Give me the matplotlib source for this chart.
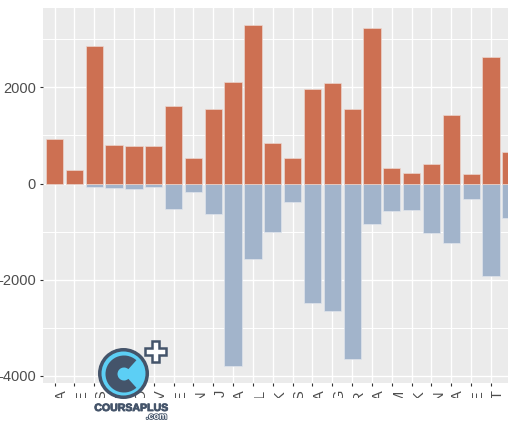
import numpy as np
import matplotlib
matplotlib.use("Agg")
import matplotlib.pyplot as plt
import matplotlib.patheffects as pe
from matplotlib.patches import Circle, Wedge, Polygon, Rectangle

plt.rcParams['font.family'] = ['Liberation Sans', 'DejaVu Sans']
plt.rcParams['axes.unicode_minus'] = False

# Valeurs (24 catégories visibles)
labels = ['A', 'E', 'S', 'O', 'O', 'V', 'E', 'N', 'J', 'A', 'L', 'K',
          'S', 'A', 'G', 'R', 'A', 'M', 'K', 'N', 'A', 'E', 'T', 'A']
positifs = [920, 276, 2860, 803, 783, 783, 1613, 533, 1543, 2118, 3296, 852,
            533, 1959, 2098, 1543, 3226, 318, 228, 415, 1427, 208, 2624, 665]
negatifs = [0, 0, -62, -90, -111, -62, -527, -180, -639, -3792, -1569, -1014,
            -389, -2493, -2639, -3653, -847, -576, -555, -1035, -1243, -319, -1917, -715]
yticks = [-4000, -2000, 0, 2000]

W, H = 508, 422
fig = plt.figure(figsize=(W / 100, H / 100), dpi=100)

# panneau : gauche 42.7 px, haut 8 px, bas 383 px, déborde à droite
left, top, bottom = 42.7, 8, 383
n = len(labels)
right = left + (n - 1 + 1.2) * 20
ax = fig.add_axes([left / W, 1 - bottom / H, (right - left) / W, (bottom - top) / H])
ax.set_facecolor('#ebebeb')

x = np.arange(1, n + 1)
ax.bar(x, negatifs, width=0.87, color='#a2b4cb', edgecolor='#dfe4ec', linewidth=0.5, zorder=2)
ax.bar(x, positifs, width=0.87, color='#cd7052', edgecolor='#ecd5cc', linewidth=0.5, zorder=3)

ax.set_xlim(0.4, n + 0.8)
ax.set_ylim(-4146, 3650)
ax.set_yticks(yticks)
ax.set_yticklabels([str(v) for v in yticks])
ax.set_yticks([-3000, -1000, 1000, 3000], minor=True)
ax.set_xticks(x)
ax.set_xticklabels(labels, rotation=90, ha='left', va='top')

ax.grid(True, which='major', color='white', linewidth=1.0, zorder=0)
ax.grid(True, which='minor', axis='y', color='white', linewidth=0.7, zorder=0)
ax.set_axisbelow(True)
for s in ax.spines.values():
    s.set_visible(False)
ax.tick_params(axis='both', which='major', length=2.5, width=0.8, color='#333333',
               labelcolor='#4d4d4d', labelsize=10.5, pad=2.5)
ax.tick_params(axis='y', which='minor', length=0)

# image recadrée : bas blanc
fig.add_artist(Rectangle((0, 0), 1, (H - 397.5) / H, transform=fig.transFigure,
                         facecolor='white', edgecolor='none', zorder=10))

# logo
lg = fig.add_axes([0, 0, 1, 1], zorder=20)
lg.set_xlim(0, W)
lg.set_ylim(H, 0)
lg.axis('off')
navy = '#44546a'
lg.add_patch(Circle((123.5, 373.5), 25.5, facecolor=navy, edgecolor='none'))
lg.add_patch(Circle((123.5, 373.5), 22, facecolor='#5ccff5', edgecolor='none'))
lg.add_patch(Wedge((124, 374), 18.5, 48, 312, width=12, facecolor=navy, edgecolor='none'))
cx, cy, a, b = 155.5, 351.5, 10.5, 3.8
plus = [(cx - b, cy - a), (cx + b, cy - a), (cx + b, cy - b), (cx + a, cy - b),
        (cx + a, cy + b), (cx + b, cy + b), (cx + b, cy + a), (cx - b, cy + a),
        (cx - b, cy + b), (cx - a, cy + b), (cx - a, cy - b), (cx - b, cy - b)]
lg.add_patch(Polygon(plus, closed=True, facecolor='white', edgecolor=navy, linewidth=1.8))
lg.text(131, 408, 'COURSAPLUS', ha='center', va='center', fontsize=7.6,
        fontweight='bold', color=navy,
        path_effects=[pe.withStroke(linewidth=0.6, foreground=navy)])
lg.text(167, 416.5, '.com', ha='right', va='center', fontsize=6.5, fontweight='bold',
        color='white', path_effects=[pe.withStroke(linewidth=1.2, foreground=navy)])

fig.savefig('out.png', dpi=100)
